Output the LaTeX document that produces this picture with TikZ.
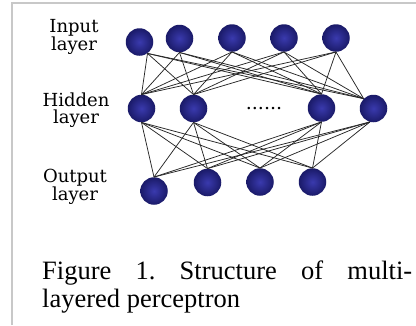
\documentclass[tikz,border=0pt]{standalone}
\usepackage{fontspec}
\setmainfont{Liberation Serif}
\newfontfamily\labfont{DejaVu Serif}
\definecolor{nodein}{HTML}{3A3AAE}
\definecolor{nodeout}{HTML}{1A1A68}
\definecolor{framec}{HTML}{C8C8C8}
\begin{document}
\frenchspacing
\begin{tikzpicture}[x=1pt,y=-1pt,
  neuron/.style={circle,minimum size=27.5pt,inner sep=0pt,inner color=nodein,outer color=nodeout},
  link/.style={line width=0.75pt,black!85},
  lab/.style={font=\labfont\fontsize{18}{17}\selectfont,align=center,inner sep=0pt},
  captext/.style={anchor=base west,inner sep=0pt,font=\fontsize{26.5}{28}\selectfont}]
\useasboundingbox (0,0) rectangle (416,325);
\draw[framec,line width=2pt] (12,325) -- (12,3.3) -- (416,3.3);
% labels
\node[lab] (linput) at (74,37) {Input\\layer};
\node[lab] (lhidden) at (76,110) {Hidden\\layer};
\node[lab] (loutput) at (75,187) {Output\\layer};
% input layer
\node[neuron] (i1) at (139.5,42) {};
\node[neuron] (i2) at (179.5,38.5) {};
\node[neuron] (i3) at (232,38) {};
\node[neuron] (i4) at (284,38) {};
\node[neuron] (i5) at (336,38) {};
% hidden layer
\node[neuron] (h1) at (141.5,108.5) {};
\node[neuron] (h2) at (193.5,108.5) {};
\node[neuron] (h3) at (321.5,108) {};
\node[neuron] (h4) at (373.5,108.5) {};
\node[font=\labfont\fontsize{19}{19}\selectfont,inner sep=0pt] (dots) at (264,109) {......};
% output layer
\node[neuron] (o1) at (154,191) {};
\node[neuron] (o2) at (207.5,182.5) {};
\node[neuron] (o3) at (260,182) {};
\node[neuron] (o4) at (312.5,182) {};
% connections
\foreach \a in {i1.-55,i2.south,i3.south,i4.south,i5.south}
  \foreach \b in {h1.north,h2.north,h3.north,h4.135}
    \draw[link] (\a) -- (\b);
\foreach \a in {h1.south,h2.south,h3.south,h4.-105}
  \foreach \b in {o1.north,o2.north,o3.north,o4.north}
    \draw[link] (\a) -- (\b);
% caption
\node[captext] (cap1) at (42,279) {\makebox[370pt][s]{Figure 1. Structure of multi-}};
\node[captext] (cap2) at (42,307) {layered perceptron};
\end{tikzpicture}
\end{document}
